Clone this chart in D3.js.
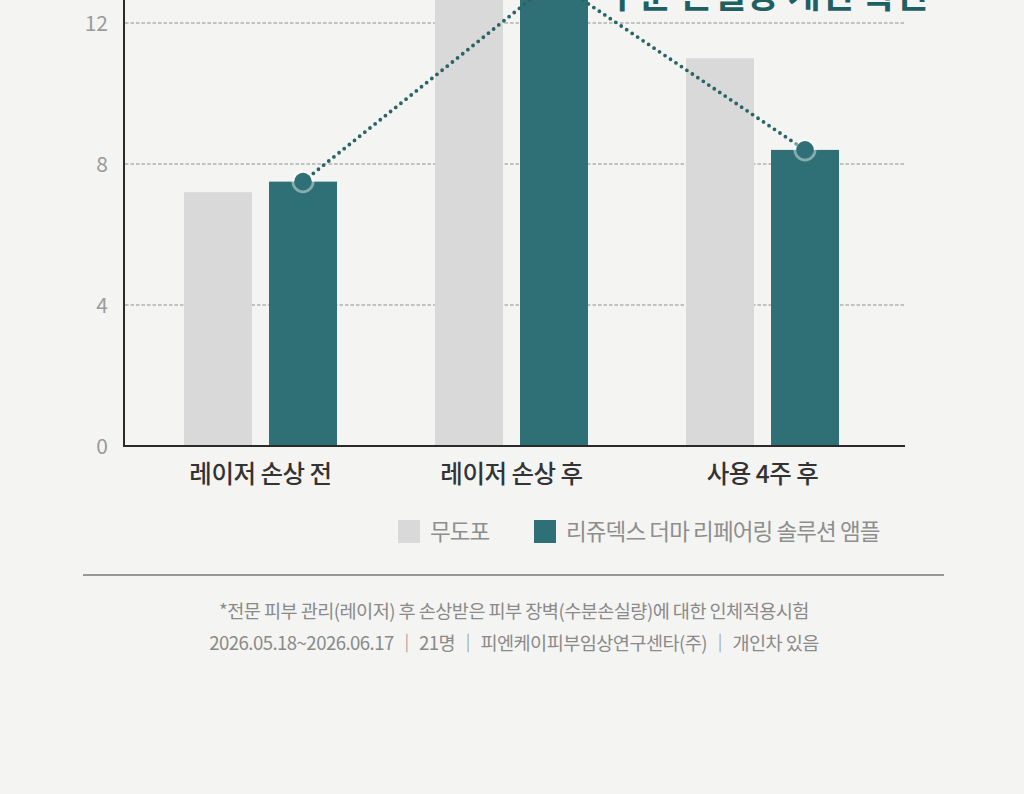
<!DOCTYPE html>
<html><head><meta charset="utf-8">
<script src="https://cdn.jsdelivr.net/npm/d3@7"></script>
<style>
html,body{margin:0;padding:0;background:#f4f4f2;}
svg{display:block;font-family:"Noto Sans CJK KR","Noto Sans",sans-serif;}
</style></head>
<body>
<svg id="c" width="1024" height="794"></svg>
<script>
const categories = ["레이저 손상 전", "레이저 손상 후", "사용 4주 후"];
const seriesNames = ["무도포", "리쥬덱스 더마 리페어링 솔루션 앰플"];
const controlValues = [7.2, 14.0, 11.0];
const productValues = [7.5, 13.2, 8.4];
const yTicks = [0, 4, 8, 12];
const titleText = "수분 손실량 개선 확인";
const footnotes = [
  "*전문 피부 관리(레이저) 후 손상받은 피부 장벽(수분손실량)에 대한 인체적용시험",
  "2026.05.18~2026.06.17 ｜ 21명 ｜ 피엔케이피부임상연구센타(주) ｜ 개인차 있음"
];

const colors = ["#d9d9d9", "#2e7075"];
const svg = d3.select("#c");
const y = d3.scaleLinear().domain([0, 12]).range([446, 23]);
const x0 = d3.scaleBand().domain(categories).range([135, 888]).padding(0);
const x1 = d3.scaleBand().domain([0, 1]).range([0, 153]).paddingInner(0.2);
const groupOffset = c => x0(c) + x0.bandwidth() / 2 - 76.5;

// grid
svg.append("g").selectAll("line").data(yTicks.filter(t => t > 0)).join("line")
  .attr("x1", 125).attr("x2", 905)
  .attr("y1", d => y(d)).attr("y2", d => y(d))
  .attr("stroke", "#8f8f8f").attr("stroke-width", 1).attr("stroke-dasharray", "3.5,2");

// y tick labels
svg.append("g").selectAll("text").data(yTicks).join("text")
  .attr("x", 108).attr("y", d => y(d) + 7.5)
  .attr("text-anchor", "end").attr("font-size", 21).attr("fill", "#9a9a9a")
  .text(d => d);

// bars
const series = [controlValues, productValues];
series.forEach((vals, si) => {
  svg.append("g").selectAll("rect").data(categories).join("rect")
    .attr("x", c => groupOffset(c) + x1(si))
    .attr("width", x1.bandwidth())
    .attr("y", (c, i) => y(vals[i]))
    .attr("height", (c, i) => y(0) - y(vals[i]))
    .attr("fill", colors[si]);
});

// title (partially visible, as in the reference)
svg.append("text").attr("x", 767).attr("y", 8)
  .attr("text-anchor", "middle").attr("font-size", 36).attr("font-weight", 700)
  .attr("fill", "#1f5f63").text(titleText);

// dotted line
const pts = categories.map((c, i) => [groupOffset(c) + x1(1) + x1.bandwidth() / 2, y(productValues[i])]);
svg.append("path").attr("d", d3.line()(pts))
  .attr("fill", "none").attr("stroke", "#2a6468").attr("stroke-width", 3.8)
  .attr("stroke-linecap", "round").attr("stroke-dasharray", "0 6.6");

const mk = svg.append("g").selectAll("g").data(pts).join("g");
mk.append("circle").attr("cx", d => d[0]).attr("cy", d => d[1]).attr("r", 11.5)
  .attr("fill", "rgba(255,255,255,0.42)");
mk.append("circle").attr("cx", d => d[0]).attr("cy", d => d[1]).attr("r", 8.8)
  .attr("fill", "#2e7075");

// axes lines
svg.append("line").attr("x1", 124).attr("x2", 124).attr("y1", 0).attr("y2", 447)
  .attr("stroke", "#2a2a2a").attr("stroke-width", 2);
svg.append("line").attr("x1", 123).attr("x2", 905).attr("y1", 446).attr("y2", 446)
  .attr("stroke", "#2a2a2a").attr("stroke-width", 2);

// x labels
svg.append("g").selectAll("text").data(categories).join("text")
  .attr("x", c => x0(c) + x0.bandwidth() / 2).attr("y", 483)
  .attr("text-anchor", "middle").attr("font-size", 24.5).attr("font-weight", 500)
  .attr("fill", "#333").attr("letter-spacing", -0.5).text(c => c);

// legend
const legendX = [398, 534];
seriesNames.forEach((n, i) => {
  svg.append("rect").attr("x", legendX[i]).attr("y", 520).attr("width", 22).attr("height", 23).attr("fill", colors[i]);
  svg.append("text").attr("x", legendX[i] + 32).attr("y", 540).attr("font-size", 22.5)
    .attr("fill", "#8e8e8e").attr("letter-spacing", -0.9).text(n);
});

// separator
svg.append("line").attr("x1", 83).attr("x2", 944).attr("y1", 575).attr("y2", 575)
  .attr("stroke", "#7a7a7a").attr("stroke-width", 1.5);

// footnotes
svg.append("g").selectAll("text").data(footnotes).join("text")
  .attr("x", 514).attr("y", (d, i) => 618 + i * 32)
  .attr("text-anchor", "middle").attr("font-size", 18.6).attr("fill", "#8a8a8a")
  .attr("letter-spacing", -0.55).text(d => d);
</script>
</body></html>
